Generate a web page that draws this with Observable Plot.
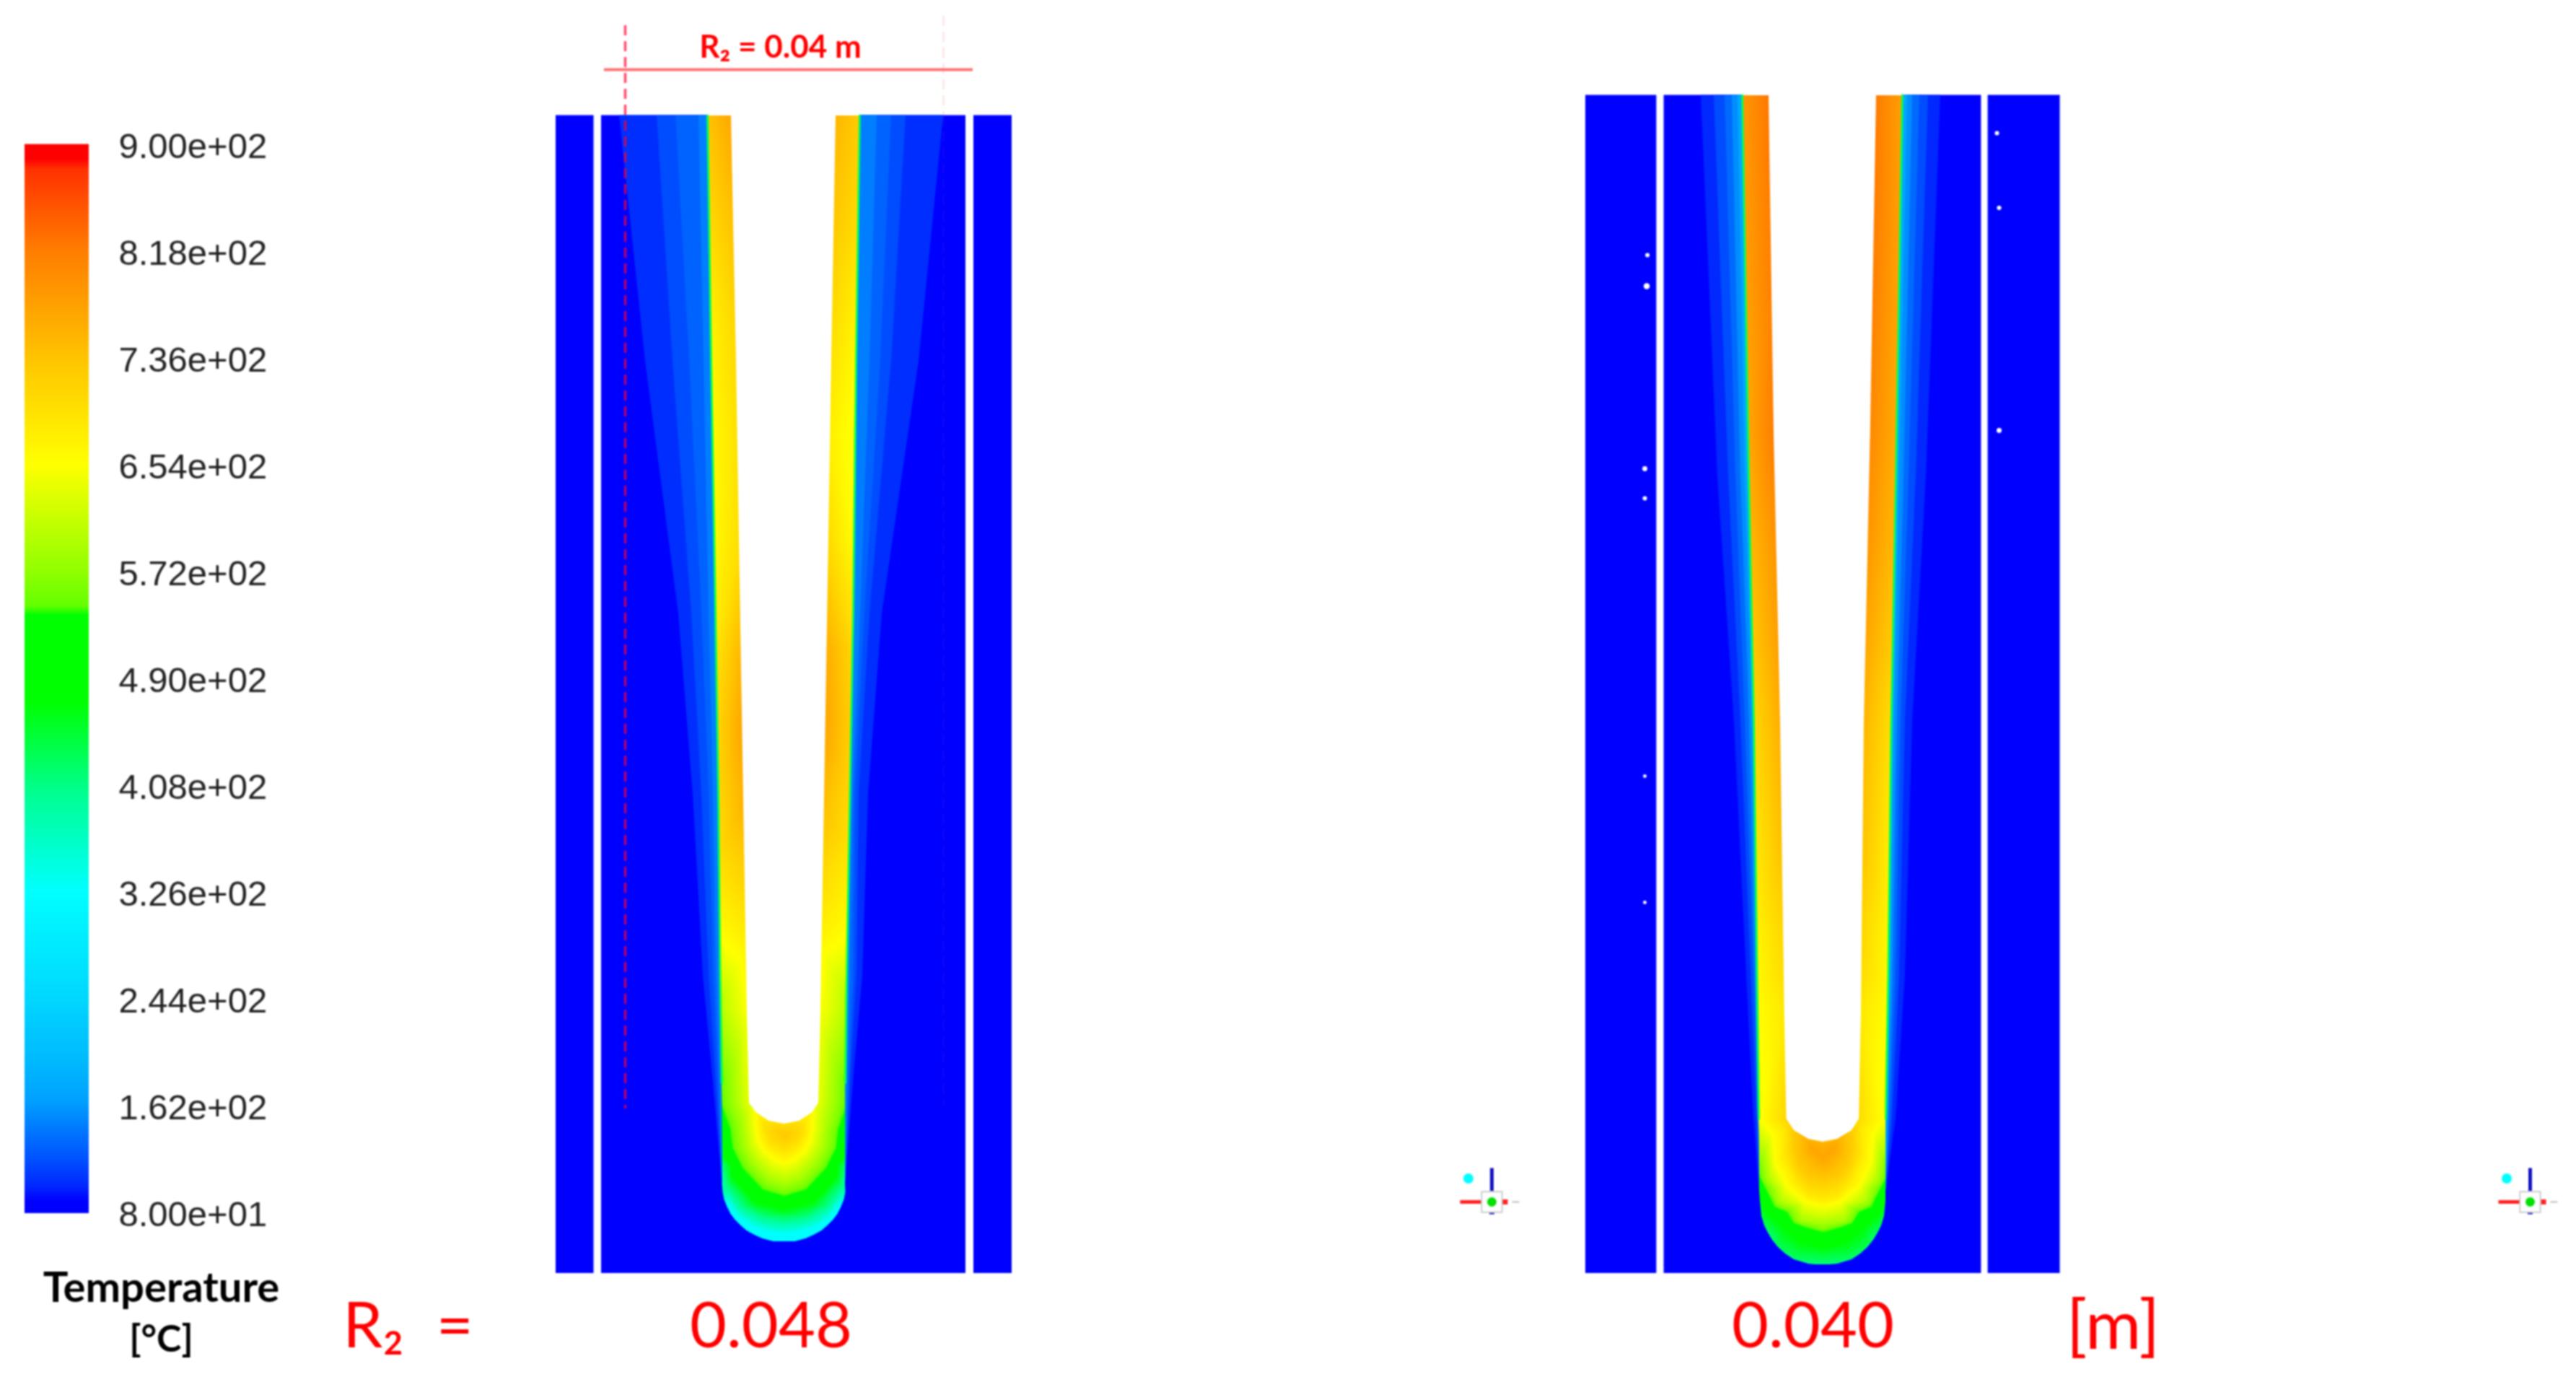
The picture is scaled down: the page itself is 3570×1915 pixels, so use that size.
<!DOCTYPE html>
<html>
<head>
<meta charset="utf-8">
<script src="https://cdn.jsdelivr.net/npm/d3@7"></script>
<script src="https://cdn.jsdelivr.net/npm/@observablehq/plot@0.6"></script>
<style>
html,body{margin:0;padding:0;background:#fff;}
#stage{position:relative;width:3570px;height:1915px;overflow:hidden;background:#fff;}
#stage svg{position:absolute;left:0;top:0;filter:blur(0.9px);}
</style>
</head>
<body>
<div id="stage"></div>
<script>
const tempStops = [80,88,100,120,140,165,195,244,326,404,472,538,545,572,654,736,818,880,888,900];
const stopColors = ["#0000ff","#0000ff","rgb(0,40,255)","rgb(0,80,255)","rgb(0,115,255)","rgb(0,160,255)","rgb(0,185,255)","rgb(0,215,255)","rgb(0,255,255)","rgb(0,255,140)","rgb(0,255,0)","rgb(0,255,0)","rgb(100,255,0)","rgb(145,255,0)","rgb(255,255,0)","rgb(255,195,0)","rgb(255,125,0)","rgb(255,50,0)","rgb(255,0,0)","rgb(255,0,0)"];
const legendTicks = [80,162,244,326,408,490,572,654,736,818,900];
const colorScale = {type:"linear",domain:tempStops,range:stopColors,clamp:true};

// ---------- contour levels in the insulation ----------
const haloTemps = [103,118,130,146];
const haloTemps2 = [100,118,135,155,175];

// ---------- case R2 = 0.048 ----------
const p1Strips = [[770,822.6],[1349,1402]];
const p1Main = [833,1338];
const p1Top = 159.5, p1Bottom = 1764, p1Center = 1086.5;
const p1StationY = [159.5,500,850,1100,1350,1500,1640];
const p1EdgeL = [980,985,991,995,997.5,1000,1000.5];
const p1EdgeR = [1191,1186,1182,1177.5,1173,1171,1171];
const p1HaloL = [[858,894,940,960,974,988,1000.5],[910,932,958,972,982,992,1000.5],[936,955,972,982,988,995,1000.5],[968,975,982,988,992,997,1000.5]];
const p1HaloR = [[1307,1273,1222,1203,1195,1182,1171],[1255,1235,1205,1190,1187,1178,1171],[1235,1220,1198,1185,1183,1176,1171],[1215,1205,1192,1182,1178,1174,1171]];
const p1BowlDx = [85,83,79,74,68,60,52,41,30,15,0];
const p1BowlY = [1652,1662,1672,1682,1690,1698,1705,1711,1716,1720,1721];
const p1CavY = [159.5,500,925,1400,1528];
const p1CavL = [1013,1020,1027,1035,1038];
const p1CavR = [1158,1152,1145,1137,1134];
const p1ArcDx = [39,21,0];
const p1ArcY = [1541,1553,1557];
const p1WallY = [159,300,450,600,750,900,1000,1100,1200,1300,1400,1528];
const p1WallLOut = [730,700,665,655,655,680,700,700,690,650,590,530];
const p1WallLIn = [775,745,715,700,705,760,780,765,725,680,660,650];
const p1WallRIn = [755,735,705,680,710,770,778,750,710,670,660,650];
const p1WallROut = [720,700,665,640,650,700,710,700,680,650,590,530];
const p1FieldDx = [0,8,0,18,25, 39,36,28,14,0, 58,54,42,22,0, 75,72,58,30,0, 84,84,72,40,0, 88,80,60,30,0, 78,65,45,20,0, 100,75,45,0];
const p1FieldY = [1575,1568,1590,1580,1568, 1564,1580,1594,1606,1611, 1564,1590,1612,1632,1640, 1564,1590,1618,1648,1657, 1580,1600,1630,1665,1675, 1615,1645,1672,1688,1692, 1668,1685,1700,1708,1710, 1690,1715,1735,1735];
const p1FieldT = [725,720,700,700,700, 654,654,654,654,654, 590,590,590,590,590, 540,540,540,540,540, 472,472,472,472,472, 400,400,400,400,400, 326,326,326,326,326, 320,320,320,320];

// ---------- case R2 = 0.040 ----------
const p2Strips = [[2197,2295.4],[2754.6,2854.6]];
const p2Main = [2305.6,2745.4];
const p2Top = 131.5, p2Bottom = 1764, p2Center = 2526;
const p2StationY = [131.5,660,1000,1350,1550,1650];
const p2EdgeL = [2414,2423,2430,2434.5,2437,2438];
const p2EdgeR = [2636,2627,2620.7,2616.5,2613,2613];
const p2HaloL = [[2357,2380,2403,2420,2430,2438],[2375,2395,2412,2426,2434,2438],[2390,2405,2418,2430,2436,2438],[2400,2412,2424,2432,2436,2438],[2408,2418,2428,2434,2437,2438]];
const p2HaloR = [[2689,2669,2650,2640,2627,2613],[2672,2655,2640,2632,2622,2613],[2660,2645,2634,2627,2619,2613],[2650,2638,2629,2623,2617,2613],[2643,2632,2625,2620,2615,2613]];
const p2BowlDx = [87,85,81,76,70,62,52,40,20,0];
const p2BowlY = [1664,1685,1698,1708,1718,1728,1737,1745,1751,1753];
const p2CavY = [131.5,600,1000,1400,1550];
const p2CavL = [2451,2458,2467,2472.7,2475.5];
const p2CavR = [2600,2591.7,2583,2579,2576];
const p2ArcDx = [40,20,0];
const p2ArcY = [1566,1578,1582];
const p2WallY = [131,250,400,600,750,900,1000,1150,1300,1400,1550];
const p2WallLOut = [780,775,770,760,740,720,700,680,660,650,640];
const p2WallLIn = [830,825,820,825,800,785,770,750,715,690,720];
const p2WallRIn = [825,825,820,810,795,775,760,745,715,690,710];
const p2WallROut = [770,770,765,755,740,715,690,670,655,650,640];
const p2FieldDx = [0,15,0, 40,35,20,0, 55,52,38,20,0, 70,66,50,25,0, 82,76,60,30,0, 88,80,50,25,0, 88,78,55,28,0, 85,65,35,0, 90,75,45,0];
const p2FieldY = [1604,1590,1585, 1590,1612,1630,1636, 1570,1610,1640,1658,1662, 1570,1610,1643,1664,1671, 1600,1635,1665,1690,1695, 1630,1646,1679,1700,1707, 1657,1680,1700,1722,1728, 1695,1725,1742,1745, 1705,1725,1752,1760];
const p2FieldT = [770,770,755, 725,725,725,725, 680,680,680,680,680, 654,654,654,654,654, 590,590,590,590,590, 540,540,540,540,540, 472,472,472,472,472, 430,430,430,430, 395,395,395,395];

// ---------- annotations ----------
const bigLabels = ["R₂  =","0.048","0.040","[m]"];
const bigLabelX = [565,1068,2512,2928];
const bigLabelSize = [88,88,88,94];
const titleLines = ["Temperature","[°C]"];
const titleLineY = [1785,1856];
const titleLineSize = [58,52];
const speckX = [2282.6,2281.6,2279,2279,2279,2279,2767,2770,2770];
const speckY = [353,396,649,690,1075,1250,184,287.5,596];
const speckR = [3,6,4,3,2,2,3,3,4];
const triadX = [2067,3506];
const triadY = [1665,1665];

// ---------- builders ----------
function panelMarks(o){
  const edgeL = d3.scaleLinear(o.stY,o.edgeL).clamp(true), edgeR = d3.scaleLinear(o.stY,o.edgeR).clamp(true);
  const cavL = d3.scaleLinear(o.cavY,o.cavL).clamp(true), cavR = d3.scaleLinear(o.cavY,o.cavR).clamp(true);
  const tip = o.bowlY[o.bowlY.length-1];
  const samples = [];
  o.wallY.forEach((y,i)=>{
    samples.push({x:edgeL(y)-6,y,t:o.wLO[i]},{x:cavL(y)+6,y,t:o.wLI[i]},{x:cavR(y)-6,y,t:o.wRI[i]},{x:edgeR(y)+6,y,t:o.wRO[i]});
  });
  o.fDx.forEach((dx,i)=>{
    samples.push({x:o.c-dx,y:o.fY[i],t:o.fT[i]});
    if(dx>0) samples.push({x:o.c+dx,y:o.fY[i],t:o.fT[i]});
  });
  const cav = o.cavY.map((y,i)=>({y,x1:o.cavL[i],x2:o.cavR[i]}))
    .concat(o.arcDx.map((dx,i)=>({y:o.arcY[i],x1:o.c-dx,x2:o.c+dx})));
  const bowlL = o.bowlDx.map((dx,i)=>({y:o.bowlY[i],e:o.c-dx}));
  const bowlR = o.bowlDx.map((dx,i)=>({y:o.bowlY[i],e:o.c+dx}));
  const side = [];
  o.stY.forEach((y,j)=>side.push({k:"L",t:80,y,x1:o.main[0],x2:o.edgeL[j]},{k:"R",t:80,y,x1:o.edgeR[j],x2:o.main[1]}));
  bowlL.forEach(d=>side.push({k:"L",t:80,y:d.y,x1:o.main[0],x2:d.e}));
  bowlR.forEach(d=>side.push({k:"R",t:80,y:d.y,x1:d.e,x2:o.main[1]}));
  const halos = [];
  o.haloT.forEach((t,i)=>{
    o.stY.forEach((y,j)=>{
      halos.push({k:"L"+i,t,y,x1:o.haloL[i][j],x2:o.edgeL[j]});
      halos.push({k:"R"+i,t,y,x1:o.edgeR[j],x2:o.haloR[i][j]});
    });
  });
  const skin = [];
  o.stY.slice(0,-1).forEach((y,j)=>skin.push({k:"L",t:430,y,x:o.edgeL[j]},{k:"R",t:430,y,x:o.edgeR[j]}));
  const rects = o.strips.map(s=>({x1:s[0],x2:s[1],y1:o.top,y2:o.bottom,t:80}));
  rects.push({x1:o.main[0],x2:o.main[1],y1:tip-1,y2:o.bottom,t:80});
  return [
    Plot.raster(samples,{x:"x",y:"y",fill:"t",interpolate:"barycentric",
      x1:d3.min(o.edgeL)-2,x2:d3.max(o.edgeR)+2,y1:o.top,y2:tip+1,pixelSize:1}),
    Plot.areaX(cav,{x1:"x1",x2:"x2",y:"y",fill:"white"}),
    Plot.areaX(side,{x1:"x1",x2:"x2",y:"y",z:"k",fill:"t"}),
    Plot.areaX(halos,{x1:"x1",x2:"x2",y:"y",z:"k",fill:"t"}),
    Plot.line(skin,{x:"x",y:"y",z:"k",stroke:"t",strokeWidth:3}),
    Plot.rect(rects,{x1:"x1",x2:"x2",y1:"y1",y2:"y2",fill:"t"})
  ];
}

const field = Plot.plot({
  width:3570,height:1915,margin:0,
  style:{background:"transparent"},
  x:{domain:[0,3570],range:[0,3570],axis:null},
  y:{domain:[0,1915],range:[0,1915],axis:null},
  color:colorScale,
  marks:[
    ...panelMarks({top:p1Top,bottom:p1Bottom,c:p1Center,strips:p1Strips,main:p1Main,stY:p1StationY,edgeL:p1EdgeL,edgeR:p1EdgeR,
      haloT:haloTemps,haloL:p1HaloL,haloR:p1HaloR,bowlDx:p1BowlDx,bowlY:p1BowlY,cavY:p1CavY,cavL:p1CavL,cavR:p1CavR,arcDx:p1ArcDx,arcY:p1ArcY,
      wallY:p1WallY,wLO:p1WallLOut,wLI:p1WallLIn,wRI:p1WallRIn,wRO:p1WallROut,fDx:p1FieldDx,fY:p1FieldY,fT:p1FieldT}),
    ...panelMarks({top:p2Top,bottom:p2Bottom,c:p2Center,strips:p2Strips,main:p2Main,stY:p2StationY,edgeL:p2EdgeL,edgeR:p2EdgeR,
      haloT:haloTemps2,haloL:p2HaloL,haloR:p2HaloR,bowlDx:p2BowlDx,bowlY:p2BowlY,cavY:p2CavY,cavL:p2CavL,cavR:p2CavR,arcDx:p2ArcDx,arcY:p2ArcY,
      wallY:p2WallY,wLO:p2WallLOut,wLI:p2WallLIn,wRI:p2WallRIn,wRO:p2WallROut,fDx:p2FieldDx,fY:p2FieldY,fT:p2FieldT}),
    Plot.dot(speckX,{x:d=>d,y:(d,i)=>speckY[i],r:(d,i)=>speckR[i],fill:"white",stroke:"none"}),
    Plot.ruleX([866],{y1:35,y2:1536,stroke:"#ff0030",strokeOpacity:0.7,strokeWidth:3.5,strokeDasharray:"14,8"}),
    Plot.ruleX([1307],{y1:22,y2:160,stroke:"#ff9090",strokeOpacity:0.25,strokeWidth:2.5,strokeDasharray:"14,8"}),
    Plot.ruleX([1307],{y1:160,y2:1530,stroke:"#ff9090",strokeOpacity:0.06,strokeWidth:2.5,strokeDasharray:"14,8"}),
    Plot.ruleY([96],{x1:837,x2:1348,stroke:"#ff7070",strokeWidth:4}),
    Plot.text(["R₂ = 0.04 m"],{x:1081,y:65,fill:"#ff0000",fontFamily:"Lato",fontWeight:700,fontSize:44,textAnchor:"middle"}),
    Plot.link(triadX,{x1:d=>d-44,x2:d=>d-12,y1:(d,i)=>triadY[i],y2:(d,i)=>triadY[i],stroke:"#ff2020",strokeWidth:5}),
    Plot.link(triadX,{x1:d=>d+14,x2:d=>d+22,y1:(d,i)=>triadY[i],y2:(d,i)=>triadY[i],stroke:"#ff2020",strokeWidth:7}),
    Plot.link(triadX,{x1:d=>d+28,x2:d=>d+38,y1:(d,i)=>triadY[i],y2:(d,i)=>triadY[i],stroke:"#c8c8c8",strokeWidth:2.5}),
    Plot.link(triadX,{x1:d=>d,x2:d=>d,y1:(d,i)=>triadY[i]-47,y2:(d,i)=>triadY[i]-15,stroke:"#1010c0",strokeWidth:5}),
    Plot.link(triadX,{x1:d=>d,x2:d=>d,y1:(d,i)=>triadY[i]+13,y2:(d,i)=>triadY[i]+17,stroke:"#1010c0",strokeWidth:7}),
    Plot.dot(triadX,{x:d=>d,y:(d,i)=>triadY[i],r:16,stroke:"#cccccc",strokeWidth:2,fill:"white",symbol:"square"}),
    Plot.dot(triadX,{x:d=>d,y:(d,i)=>triadY[i],r:6.5,fill:"#00e000",stroke:"none"}),
    Plot.dot(triadX,{x:d=>d-32.5,y:(d,i)=>triadY[i]-32.5,r:7,fill:"#00ffff",stroke:"none"}),
    Plot.text(bigLabels,{x:(d,i)=>bigLabelX[i],y:()=>1838,text:d=>d,fill:"#ff0000",fontFamily:"Lato",fontSize:(d,i)=>bigLabelSize[i],textAnchor:"middle"}),
    Plot.text(titleLines,{x:()=>223,y:(d,i)=>titleLineY[i],text:d=>d,fill:"#000000",fontFamily:"Lato",fontWeight:700,fontSize:(d,i)=>titleLineSize[i],textAnchor:"middle"})
  ]
});

// ---------- legend ----------
const ramp = d3.range(80,900,2);
const fmt = d=>d.toExponential(2).replace(/e\+(\d)$/,"e+0$1");
const legend = Plot.plot({
  width:500,height:1915,marginLeft:34,marginRight:377,marginTop:200.5,marginBottom:234,
  style:{background:"transparent",fontFamily:"Liberation Sans"},
  x:{domain:[0,1],axis:null},
  y:{domain:[80,900],axis:null},
  color:colorScale,
  marks:[
    Plot.rect(ramp,{x1:()=>0,x2:()=>1,y1:d=>d,y2:d=>d+2.5,fill:d=>d}),
    Plot.axisY(legendTicks,{anchor:"right",tickSize:0,tickPadding:41,tickFormat:fmt,fontSize:49,dy:2,fill:"#222222",label:null})
  ]
});

const stage = document.getElementById("stage");
stage.appendChild(field);
stage.appendChild(legend);
</script>
</body>
</html>
